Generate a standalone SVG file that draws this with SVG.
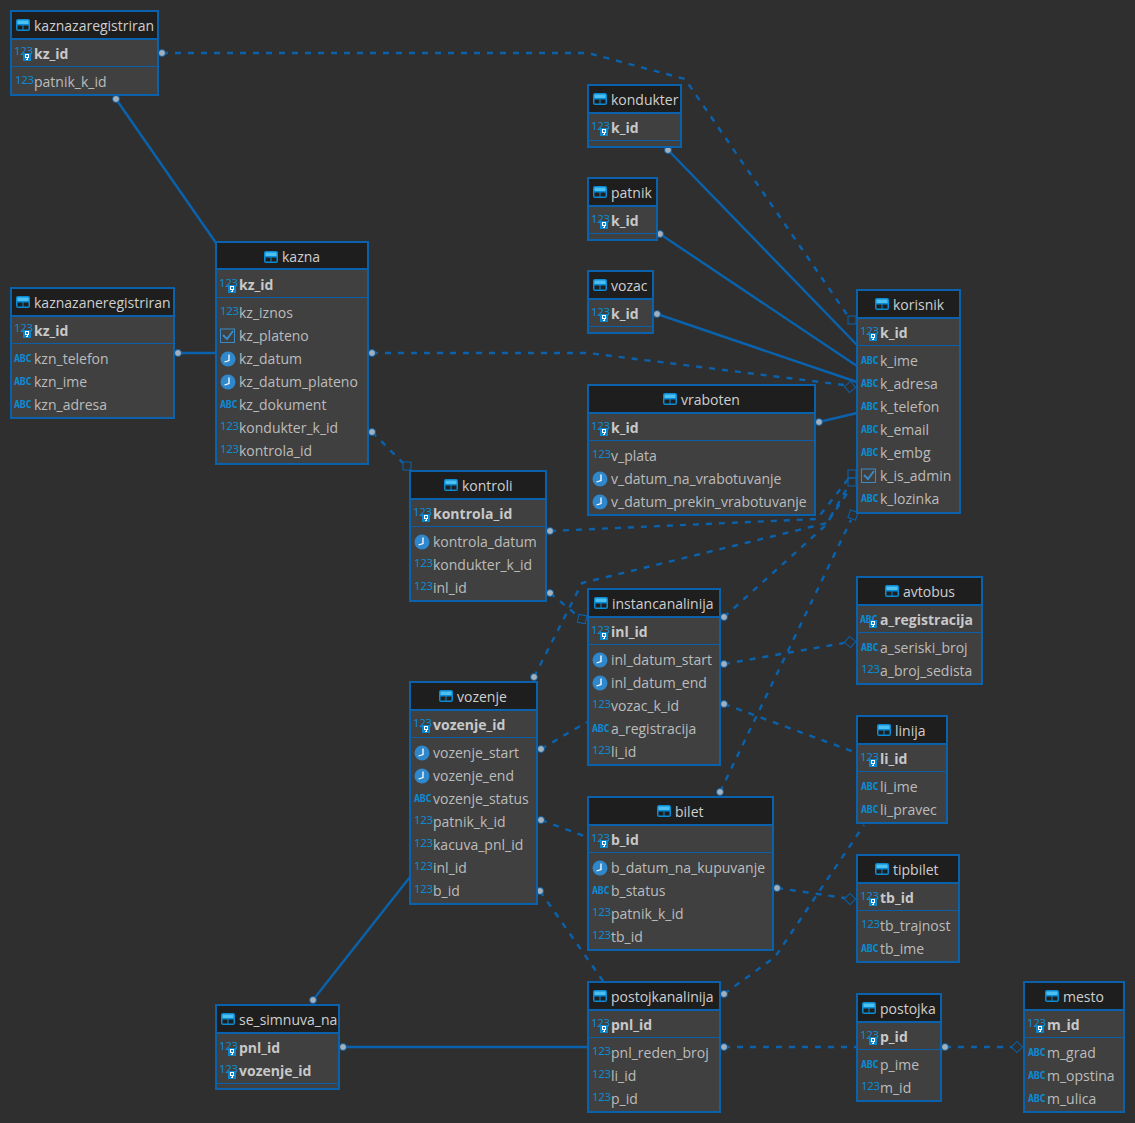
<svg xmlns="http://www.w3.org/2000/svg" width="1135" height="1123" viewBox="0 0 1135 1123">
<style>
text{font-family:"Open Sans","Noto Sans","Liberation Sans",sans-serif;font-size:14px;fill:#bcbcbc}
.k{font-weight:700;fill:#c8c8c8}
.h{fill:#cfcfcf}
.n{font-family:"Noto Sans","Liberation Sans",sans-serif;font-size:11.500px;fill:#0b8bd3;letter-spacing:-.3px}
.a{font-family:"DejaVu Sans Mono","Liberation Mono",monospace;font-weight:700;font-size:10px;fill:#0b8bd3;letter-spacing:-.3px}
.box{fill:#404040;stroke:#0a62ad;stroke-width:2}
.hd{fill:#1e1e1e}
.dv{stroke:#0a5fa8;stroke-width:1;fill:none}
.hb{stroke:#0a62ad;stroke-width:2;fill:none}
.s{fill:none;stroke:#0a62ad;stroke-width:2.400}
.d{fill:none;stroke:#0a62ad;stroke-width:2.400;stroke-dasharray:6 7}
.m{fill:none;stroke:#0a62ad;stroke-width:1}
.p{fill:#a3afba;stroke:#0a5a9e;stroke-width:1}
</style>
<defs>
<symbol id="tbl" width="14" height="12" viewBox="0 0 14 12"><rect x="0" y="0" width="14" height="12" rx="2" fill="#0b8bd3"/><rect x="1.500" y="1.500" width="11" height="3.500" fill="#4cc0f0"/><rect x="1.500" y="6.500" width="5" height="4" fill="#1e1e1e"/><rect x="7.500" y="6.500" width="5" height="4" fill="#1e1e1e"/></symbol>
<symbol id="key" width="8" height="8" viewBox="0 0 8 8"><rect width="8" height="8" fill="#0b85cc"/><rect x="2.500" y="1.500" width="3" height="3" fill="none" stroke="#fff"/><rect x="4" y="4" width="1" height="3" fill="#fff"/><rect x="3" y="6" width="1" height="1" fill="#fff"/></symbol>
<symbol id="clk" width="16" height="16" viewBox="0 0 16 16"><circle cx="8" cy="8" r="7.500" fill="#2f87cc"/><path d="M9 3.500V9.500L4.500 11" fill="none" stroke="#fff" stroke-width="1.300"/></symbol>
<symbol id="chk" width="16" height="16" viewBox="0 0 16 16"><rect x=".5" y="1" width="14" height="13.500" fill="none" stroke="#3a8ac8"/><path d="M3 7L7 11L13 3" fill="none" stroke="#3a8ac8" stroke-width="2"/></symbol>
</defs>
<rect width="1135" height="1123" fill="#2f2f2f"/>

<g id="connectors">
<path class="s" d="M116 99L216 243"/>
<path class="s" d="M178 353H216"/>
<path class="s" d="M668 150L857 345"/>
<path class="s" d="M660 234L857 366"/>
<path class="s" d="M657 314L857 382"/>
<path class="s" d="M819 422L857 413"/>
<path class="s" d="M313 1000L410 877"/>
<path class="s" d="M343 1047H588"/>
<path class="d" d="M162 53H588L685 79L848 316"/>
<path class="d" d="M372 353H588L844 385"/>
<path class="d" d="M372 432L403 463"/>
<path class="d" d="M550 531L817 519L849 478"/>
<path class="d" d="M534 677L582 583L827 523L849 485"/>
<path class="d" d="M724 617L825 526L850 489"/>
<path class="d" d="M720 792L851 520"/>
<path class="d" d="M550 593L578 616"/>
<path class="d" d="M724 664L844 643"/>
<path class="d" d="M724 704L857 753"/>
<path class="d" d="M541 749L587 722"/>
<path class="d" d="M541 820L587 837"/>
<path class="d" d="M540 891L603 981"/>
<path class="d" d="M777 888L845 898"/>
<path class="d" d="M724 994L775 957L864 825"/>
<path class="d" d="M724 1047H857"/>
<path class="d" d="M945 1047H1012"/>
<rect class="m" x="848" y="316" width="8" height="8"/>
<rect class="m" x="848" y="470" width="8" height="8"/>
<rect class="m" x="848" y="478" width="8" height="8"/>
<rect class="m" x="849" y="511" width="8" height="8" transform="rotate(20 853 515)"/>
<rect class="m" x="403" y="462" width="8" height="8"/>
<rect class="m" x="578" y="615" width="8" height="8" transform="rotate(10 582 619)"/>
<rect class="m" x="846" y="383" width="8" height="8" transform="rotate(50 850 387)"/>
<rect class="m" x="846" y="638" width="8" height="8" transform="rotate(40 850 642)"/>
<rect class="m" x="846" y="895" width="8" height="8" transform="rotate(45 850 899)"/>
<rect class="m" x="1013" y="1043" width="8" height="8" transform="rotate(45 1017 1047)"/>
<g>
<circle class="p" cx="116" cy="99" r="3.500"/><circle class="p" cx="162" cy="53" r="3.500"/><circle class="p" cx="178" cy="353" r="3.500"/><circle class="p" cx="372" cy="353" r="3.500"/><circle class="p" cx="372" cy="432" r="3.500"/><circle class="p" cx="668" cy="150" r="3.500"/><circle class="p" cx="660" cy="234" r="3.500"/><circle class="p" cx="657" cy="314" r="3.500"/><circle class="p" cx="819" cy="422" r="3.500"/><circle class="p" cx="550" cy="531" r="3.500"/><circle class="p" cx="550" cy="593" r="3.500"/><circle class="p" cx="534" cy="677" r="3.500"/><circle class="p" cx="724" cy="617" r="3.500"/><circle class="p" cx="724" cy="664" r="3.500"/><circle class="p" cx="724" cy="704" r="3.500"/><circle class="p" cx="541" cy="749" r="3.500"/><circle class="p" cx="541" cy="820" r="3.500"/><circle class="p" cx="540" cy="891" r="3.500"/><circle class="p" cx="720" cy="792" r="3.500"/><circle class="p" cx="777" cy="888" r="3.500"/><circle class="p" cx="724" cy="994" r="3.500"/><circle class="p" cx="724" cy="1047" r="3.500"/><circle class="p" cx="945" cy="1047" r="3.500"/><circle class="p" cx="313" cy="1000" r="3.500"/><circle class="p" cx="343" cy="1047" r="3.500"/>
</g>
</g>

<g id="kaznazaregistriran">
<rect class="box" x="11" y="11" width="147" height="84"/><rect class="hd" x="12" y="12" width="145" height="27"/><path class="hb" d="M11 39H158"/><path class="dv" d="M11 66.500H158"/>
<use href="#tbl" x="16" y="19"/><text class="h" x="34" y="31">kaznazaregistriran</text>
<text class="n" x="14" y="55">123</text><use href="#key" x="23" y="53"/><text class="k" x="34" y="59">kz_id</text>
<text class="n" x="15" y="84">123</text><text x="34" y="87">patnik_k_id</text>
</g>

<g id="kaznazaneregistriran">
<rect class="box" x="11" y="288" width="163" height="130"/><rect class="hd" x="12" y="289" width="161" height="27"/><path class="hb" d="M11 316H174"/><path class="dv" d="M11 343.500H174"/>
<use href="#tbl" x="16" y="296"/><text class="h" x="34" y="308">kaznazaneregistriran</text>
<text class="n" x="14" y="332">123</text><use href="#key" x="23" y="330"/><text class="k" x="34" y="336">kz_id</text>
<text class="a" x="14" y="362">ABC</text><text x="34" y="364">kzn_telefon</text>
<text class="a" x="14" y="385">ABC</text><text x="34" y="387">kzn_ime</text>
<text class="a" x="14" y="408">ABC</text><text x="34" y="410">kzn_adresa</text>
</g>

<g id="kazna">
<rect class="box" x="216" y="242" width="152" height="222"/><rect class="hd" x="217" y="243" width="150" height="26"/><path class="hb" d="M216 269H368"/><path class="dv" d="M216 297.500H368"/>
<use href="#tbl" x="264" y="251"/><text class="h" x="282" y="262">kazna</text>
<text class="n" x="219" y="287">123</text><use href="#key" x="228" y="285"/><text class="k" x="239" y="290">kz_id</text>
<text class="n" x="220" y="315">123</text><text x="239" y="318">kz_iznos</text>
<use href="#chk" x="220" y="328"/><text x="239" y="341">kz_plateno</text>
<use href="#clk" x="220" y="351"/><text x="239" y="364">kz_datum</text>
<use href="#clk" x="220" y="374"/><text x="239" y="387">kz_datum_plateno</text>
<text class="a" x="220" y="408">ABC</text><text x="239" y="410">kz_dokument</text>
<text class="n" x="220" y="430">123</text><text x="239" y="433">kondukter_k_id</text>
<text class="n" x="220" y="453">123</text><text x="239" y="456">kontrola_id</text>
</g>

<g id="kondukter">
<rect class="box" x="588" y="85" width="93" height="62"/><rect class="hd" x="589" y="86" width="91" height="27"/><path class="hb" d="M588 113H681"/><path class="dv" d="M588 140.500H681"/>
<use href="#tbl" x="593" y="93"/><text class="h" x="611" y="105">kondukter</text>
<text class="n" x="591" y="130">123</text><use href="#key" x="600" y="128"/><text class="k" x="611" y="133">k_id</text>
</g>

<g id="patnik">
<rect class="box" x="588" y="178" width="69" height="62"/><rect class="hd" x="589" y="179" width="67" height="27"/><path class="hb" d="M588 206H657"/><path class="dv" d="M588 233.500H657"/>
<use href="#tbl" x="593" y="186"/><text class="h" x="611" y="198">patnik</text>
<text class="n" x="591" y="223">123</text><use href="#key" x="600" y="221"/><text class="k" x="611" y="226">k_id</text>
</g>

<g id="vozac">
<rect class="box" x="588" y="271" width="65" height="62"/><rect class="hd" x="589" y="272" width="63" height="27"/><path class="hb" d="M588 299H653"/><path class="dv" d="M588 326.500H653"/>
<use href="#tbl" x="593" y="279"/><text class="h" x="611" y="291">vozac</text>
<text class="n" x="591" y="316">123</text><use href="#key" x="600" y="314"/><text class="k" x="611" y="319">k_id</text>
</g>

<g id="vraboten">
<rect class="box" x="588" y="385" width="227" height="130"/><rect class="hd" x="589" y="386" width="225" height="27"/><path class="hb" d="M588 413H815"/><path class="dv" d="M588 440.500H815"/>
<use href="#tbl" x="663" y="393"/><text class="h" x="681" y="405">vraboten</text>
<text class="n" x="591" y="430">123</text><use href="#key" x="600" y="428"/><text class="k" x="611" y="433">k_id</text>
<text class="n" x="592" y="458">123</text><text x="611" y="461">v_plata</text>
<use href="#clk" x="592" y="471"/><text x="611" y="484">v_datum_na_vrabotuvanje</text>
<use href="#clk" x="592" y="494"/><text x="611" y="507">v_datum_prekin_vrabotuvanje</text>
</g>

<g id="korisnik">
<rect class="box" x="857" y="290" width="103" height="223"/><rect class="hd" x="858" y="291" width="101" height="27"/><path class="hb" d="M857 318H960"/><path class="dv" d="M857 345.500H960"/>
<use href="#tbl" x="875" y="298"/><text class="h" x="893" y="310">korisnik</text>
<text class="n" x="860" y="335">123</text><use href="#key" x="869" y="333"/><text class="k" x="880" y="338">k_id</text>
<text class="a" x="861" y="364">ABC</text><text x="880" y="366">k_ime</text>
<text class="a" x="861" y="387">ABC</text><text x="880" y="389">k_adresa</text>
<text class="a" x="861" y="410">ABC</text><text x="880" y="412">k_telefon</text>
<text class="a" x="861" y="433">ABC</text><text x="880" y="435">k_email</text>
<text class="a" x="861" y="456">ABC</text><text x="880" y="458">k_embg</text>
<use href="#chk" x="861" y="468"/><text x="880" y="481">k_is_admin</text>
<text class="a" x="861" y="502">ABC</text><text x="880" y="504">k_lozinka</text>
</g>

<g id="kontroli">
<rect class="box" x="410" y="471" width="136" height="130"/><rect class="hd" x="411" y="472" width="134" height="27"/><path class="hb" d="M410 499H546"/><path class="dv" d="M410 526.500H546"/>
<use href="#tbl" x="444" y="479"/><text class="h" x="462" y="491">kontroli</text>
<text class="n" x="413" y="516">123</text><use href="#key" x="422" y="514"/><text class="k" x="433" y="519">kontrola_id</text>
<use href="#clk" x="414" y="534"/><text x="433" y="547">kontrola_datum</text>
<text class="n" x="414" y="567">123</text><text x="433" y="570">kondukter_k_id</text>
<text class="n" x="414" y="590">123</text><text x="433" y="593">inl_id</text>
</g>

<g id="instancanalinija">
<rect class="box" x="588" y="589" width="132" height="176"/><rect class="hd" x="589" y="590" width="130" height="27"/><path class="hb" d="M588 617H720"/><path class="dv" d="M588 644.500H720"/>
<use href="#tbl" x="594" y="597"/><text class="h" x="612" y="609">instancanalinija</text>
<text class="n" x="591" y="634">123</text><use href="#key" x="600" y="632"/><text class="k" x="611" y="637">inl_id</text>
<use href="#clk" x="592" y="652"/><text x="611" y="665">inl_datum_start</text>
<use href="#clk" x="592" y="675"/><text x="611" y="688">inl_datum_end</text>
<text class="n" x="592" y="708">123</text><text x="611" y="711">vozac_k_id</text>
<text class="a" x="592" y="732">ABC</text><text x="611" y="734">a_registracija</text>
<text class="n" x="592" y="754">123</text><text x="611" y="757">li_id</text>
</g>

<g id="avtobus">
<rect class="box" x="857" y="577" width="125" height="107"/><rect class="hd" x="858" y="578" width="123" height="27"/><path class="hb" d="M857 605H982"/><path class="dv" d="M857 632.500H982"/>
<use href="#tbl" x="885" y="585"/><text class="h" x="903" y="597">avtobus</text>
<text class="a" x="860" y="623">ABC</text><use href="#key" x="869" y="620"/><text class="k" x="880" y="625">a_registracija</text>
<text class="a" x="861" y="651">ABC</text><text x="880" y="653">a_seriski_broj</text>
<text class="n" x="861" y="673">123</text><text x="880" y="676">a_broj_sedista</text>
</g>

<g id="linija">
<rect class="box" x="857" y="716" width="90" height="107"/><rect class="hd" x="858" y="717" width="88" height="27"/><path class="hb" d="M857 744H947"/><path class="dv" d="M857 771.500H947"/>
<use href="#tbl" x="877" y="724"/><text class="h" x="895" y="736">linija</text>
<text class="n" x="860" y="761">123</text><use href="#key" x="869" y="759"/><text class="k" x="880" y="764">li_id</text>
<text class="a" x="861" y="790">ABC</text><text x="880" y="792">li_ime</text>
<text class="a" x="861" y="813">ABC</text><text x="880" y="815">li_pravec</text>
</g>

<g id="vozenje">
<rect class="box" x="410" y="682" width="127" height="222"/><rect class="hd" x="411" y="683" width="125" height="27"/><path class="hb" d="M410 710H537"/><path class="dv" d="M410 737.500H537"/>
<use href="#tbl" x="439" y="690"/><text class="h" x="457" y="702">vozenje</text>
<text class="n" x="413" y="727">123</text><use href="#key" x="422" y="725"/><text class="k" x="433" y="730">vozenje_id</text>
<use href="#clk" x="414" y="745"/><text x="433" y="758">vozenje_start</text>
<use href="#clk" x="414" y="768"/><text x="433" y="781">vozenje_end</text>
<text class="a" x="414" y="802">ABC</text><text x="433" y="804">vozenje_status</text>
<text class="n" x="414" y="824">123</text><text x="433" y="827">patnik_k_id</text>
<text class="n" x="414" y="847">123</text><text x="433" y="850">kacuva_pnl_id</text>
<text class="n" x="414" y="870">123</text><text x="433" y="873">inl_id</text>
<text class="n" x="414" y="893">123</text><text x="433" y="896">b_id</text>
</g>

<g id="bilet">
<rect class="box" x="588" y="797" width="185" height="153"/><rect class="hd" x="589" y="798" width="183" height="27"/><path class="hb" d="M588 825H773"/><path class="dv" d="M588 852.500H773"/>
<use href="#tbl" x="657" y="805"/><text class="h" x="675" y="817">bilet</text>
<text class="n" x="591" y="842">123</text><use href="#key" x="600" y="840"/><text class="k" x="611" y="845">b_id</text>
<use href="#clk" x="592" y="860"/><text x="611" y="873">b_datum_na_kupuvanje</text>
<text class="a" x="592" y="894">ABC</text><text x="611" y="896">b_status</text>
<text class="n" x="592" y="916">123</text><text x="611" y="919">patnik_k_id</text>
<text class="n" x="592" y="939">123</text><text x="611" y="942">tb_id</text>
</g>

<g id="tipbilet">
<rect class="box" x="857" y="855" width="102" height="107"/><rect class="hd" x="858" y="856" width="100" height="27"/><path class="hb" d="M857 883H959"/><path class="dv" d="M857 910.500H959"/>
<use href="#tbl" x="875" y="863"/><text class="h" x="893" y="875">tipbilet</text>
<text class="n" x="860" y="900">123</text><use href="#key" x="869" y="898"/><text class="k" x="880" y="903">tb_id</text>
<text class="n" x="861" y="928">123</text><text x="880" y="931">tb_trajnost</text>
<text class="a" x="861" y="952">ABC</text><text x="880" y="954">tb_ime</text>
</g>

<g id="se_simnuva_na">
<rect class="box" x="216" y="1005" width="123" height="84"/><rect class="hd" x="217" y="1006" width="121" height="27"/><path class="hb" d="M216 1033H339"/><path class="dv" d="M216 1083.500H339"/>
<use href="#tbl" x="221" y="1013"/><text class="h" x="239" y="1025">se_simnuva_na</text>
<text class="n" x="219" y="1050">123</text><use href="#key" x="228" y="1048"/><text class="k" x="239" y="1053">pnl_id</text>
<text class="n" x="219" y="1073">123</text><use href="#key" x="228" y="1071"/><text class="k" x="239" y="1076">vozenje_id</text>
</g>

<g id="postojkanalinija">
<rect class="box" x="588" y="982" width="132" height="130"/><rect class="hd" x="589" y="983" width="130" height="27"/><path class="hb" d="M588 1010H720"/><path class="dv" d="M588 1037.500H720"/>
<use href="#tbl" x="593" y="990"/><text class="h" x="611" y="1002">postojkanalinija</text>
<text class="n" x="591" y="1027">123</text><use href="#key" x="600" y="1025"/><text class="k" x="611" y="1030">pnl_id</text>
<text class="n" x="592" y="1055">123</text><text x="611" y="1058">pnl_reden_broj</text>
<text class="n" x="592" y="1078">123</text><text x="611" y="1081">li_id</text>
<text class="n" x="592" y="1101">123</text><text x="611" y="1104">p_id</text>
</g>

<g id="postojka">
<rect class="box" x="857" y="994" width="84" height="107"/><rect class="hd" x="858" y="995" width="82" height="27"/><path class="hb" d="M857 1022H941"/><path class="dv" d="M857 1049.500H941"/>
<use href="#tbl" x="862" y="1002"/><text class="h" x="880" y="1014">postojka</text>
<text class="n" x="860" y="1039">123</text><use href="#key" x="869" y="1037"/><text class="k" x="880" y="1042">p_id</text>
<text class="a" x="861" y="1068">ABC</text><text x="880" y="1070">p_ime</text>
<text class="n" x="861" y="1090">123</text><text x="880" y="1093">m_id</text>
</g>

<g id="mesto">
<rect class="box" x="1024" y="982" width="100" height="130"/><rect class="hd" x="1025" y="983" width="98" height="27"/><path class="hb" d="M1024 1010H1124"/><path class="dv" d="M1024 1037.500H1124"/>
<use href="#tbl" x="1045" y="990"/><text class="h" x="1063" y="1002">mesto</text>
<text class="n" x="1027" y="1027">123</text><use href="#key" x="1036" y="1025"/><text class="k" x="1047" y="1030">m_id</text>
<text class="a" x="1028" y="1056">ABC</text><text x="1047" y="1058">m_grad</text>
<text class="a" x="1028" y="1079">ABC</text><text x="1047" y="1081">m_opstina</text>
<text class="a" x="1028" y="1102">ABC</text><text x="1047" y="1104">m_ulica</text>
</g>
</svg>
